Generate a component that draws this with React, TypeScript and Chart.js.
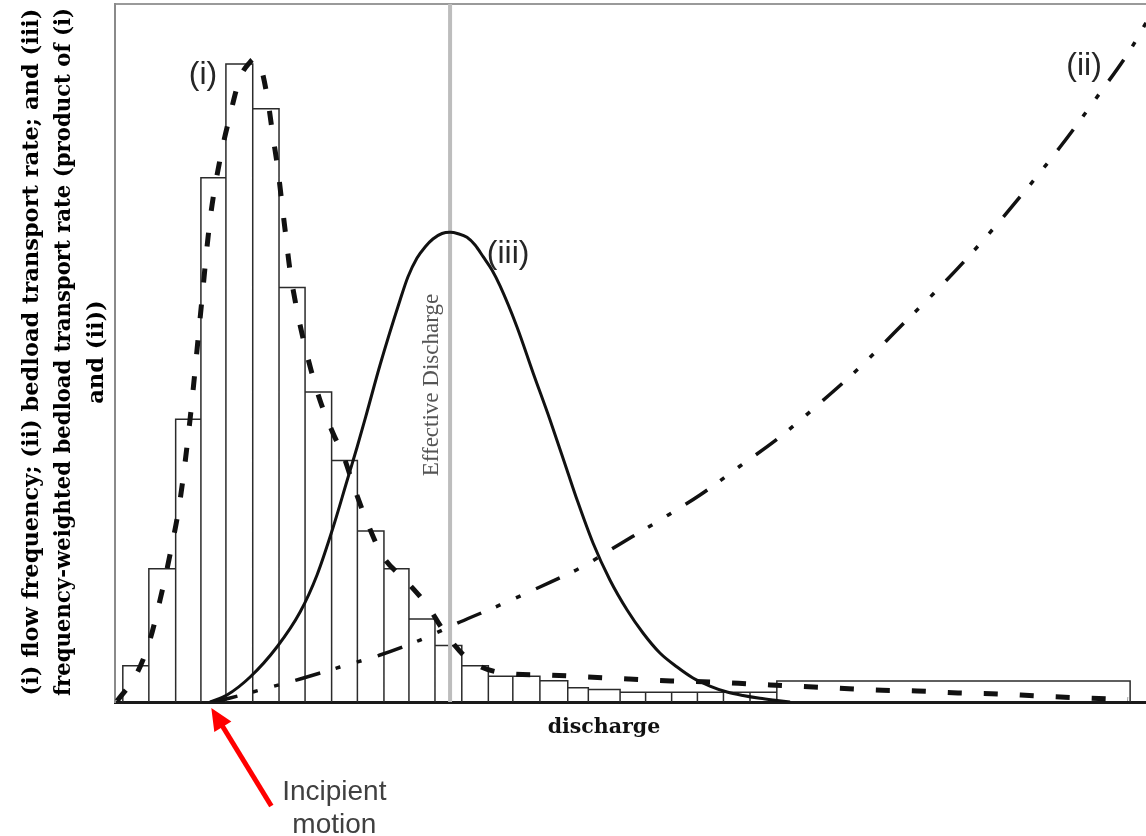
import React, { useEffect, useRef } from "react";
import { Chart, registerables } from "chart.js";

Chart.register(...registerables);

// ---- data (arbitrary discharge units on x, relative magnitude 0-100 on y) ----
const binEdges = [0.3, 1.3, 2.33, 3.3, 4.26, 5.29, 6.3, 7.3, 8.32, 9.31, 10.33, 11.29, 12.29, 13.32, 14.34, 15.28, 16.32, 17.39, 18.18, 19.4, 20.38, 21.38, 22.37, 23.37, 24.39, 25.42, 38.99];
const binFrequency = [5.2, 19.1, 40.5, 75.1, 91.4, 85.0, 59.4, 44.4, 34.6, 24.5, 19.1, 11.9, 8.1, 5.2, 3.7, 3.7, 3.05, 2.05, 1.8, 1.4, 1.4, 1.4, 1.4, 1.4, 1.4, 3.0];

// (i) fitted flow frequency curve
const freqCurveQ = [0.08, 0.85, 1.34, 1.73, 2.11, 2.5, 2.88, 3.27, 3.65, 4.03, 4.42, 4.8, 5.19, 5.34, 5.61, 5.88, 6.07, 6.26, 6.41, 6.57, 6.72, 6.95, 7.22, 7.53, 7.87, 8.37, 8.76, 9.22, 9.68, 10.26, 11.22, 11.98, 12.68, 13.56, 14.9, 16.59, 18.17, 19.74, 21.36, 22.93, 24.47, 26.04, 27.62, 29.19, 30.81, 32.38, 33.92, 35.45, 37.07, 38.91];
const freqCurveY = [0.14, 4.16, 8.88, 14.61, 21.06, 28.94, 40.4, 55.01, 69.05, 77.65, 84.1, 89.4, 91.69, 92.12, 90.83, 85.96, 80.95, 76.22, 71.49, 66.48, 61.89, 56.88, 52.15, 47.56, 43.27, 38.54, 35.39, 30.37, 25.79, 21.06, 17.19, 13.9, 9.89, 6.16, 4.16, 3.87, 3.58, 3.3, 3.01, 2.87, 2.58, 2.29, 2.01, 1.72, 1.58, 1.29, 1.15, 0.86, 0.6, 0.36];

// (ii) bedload transport rating curve
const transportQ = [3.73, 4.42, 5.57, 7.11, 8.64, 10.18, 11.72, 13.25, 14.79, 16.32, 17.86, 19.4, 20.93, 22.47, 24.01, 25.54, 27.08, 28.62, 30.15, 31.69, 33.22, 34.76, 36.3, 37.83, 38.99, 39.75];
const transportY = [0, 0.57, 1.72, 3.3, 5.01, 6.73, 8.88, 11.46, 13.9, 16.48, 19.2, 22.64, 26.07, 29.66, 33.81, 37.97, 42.84, 47.99, 53.73, 59.46, 65.62, 72.35, 79.51, 87.25, 93.41, 98.28];

// (iii) frequency-weighted bedload transport rate
const effectQ = [3.65, 4.3, 5.19, 6.22, 7.11, 7.76, 8.37, 8.91, 9.3, 9.68, 10.18, 10.95, 11.25, 11.6, 11.91, 12.21, 12.56, 12.87, 13.18, 13.52, 13.83, 14.14, 14.48, 14.79, 15.44, 16.06, 16.71, 17.36, 17.75, 18.36, 19.01, 19.67, 20.28, 20.93, 21.59, 22.2, 22.85, 23.51, 24.12, 24.77, 25.43, 25.93];
const effectY = [0, 1.0, 3.58, 7.88, 12.89, 18.2, 24.93, 31.66, 36.53, 41.55, 48.28, 57.59, 60.89, 63.61, 65.19, 66.33, 67.12, 67.29, 67.09, 66.58, 65.47, 63.8, 61.89, 59.6, 53.73, 47.14, 40.4, 33.24, 28.94, 22.78, 17.48, 13.18, 9.89, 7.02, 5.01, 3.44, 2.29, 1.43, 0.93, 0.53, 0.22, 0];

const effectiveDischarge = 12.87;
const incipientMotion = 3.7;
const X_MAX = 39.6;
const Y_MAX = 100;

const yTitleLines = [
  "(i) flow frequency; (ii) bedload transport rate; and (iii)",
  "frequency-weighted bedload transport rate (product of (i)",
  "and (ii))",
];
const curveLabels = [
  { text: "(i)", q: 3.38, v: 89.8 },
  { text: "(ii)", q: 37.22, v: 91.1 },
  { text: "(iii)", q: 15.1, v: 64.2 },
];

const zip = (xs: number[], ys: number[]) => xs.map((x, i) => ({ x, y: ys[i] }));

function histogramOutline() {
  const pts: { x: number; y: number }[] = [];
  binFrequency.forEach((h, i) => {
    pts.push({ x: binEdges[i], y: 0 }, { x: binEdges[i], y: h }, { x: binEdges[i + 1], y: h }, { x: binEdges[i + 1], y: 0 });
  });
  return pts;
}

const annotationPlugin = {
  id: "sketchAnnotations",
  afterDatasetsDraw(chart: any) {
    const { ctx, chartArea } = chart;
    const xs = chart.scales.x;
    const ys = chart.scales.y;
    ctx.save();
    ctx.textAlign = "center";
    ctx.textBaseline = "middle";

    // y axis title (three rotated lines)
    ctx.save();
    ctx.fillStyle = "#000000";
    ctx.font = 'bold 22.5px "DejaVu Serif", serif';
    const midY = (chartArea.top + chartArea.bottom) / 2 - 1;
    const lineX = [chartArea.left - 83, chartArea.left - 51, chartArea.left - 18];
    yTitleLines.forEach((line, i) => {
      ctx.save();
      ctx.translate(lineX[i], midY);
      ctx.rotate(-Math.PI / 2);
      ctx.fillText(line, 0, 0, 688);
      ctx.restore();
    });
    ctx.restore();

    // curve labels
    ctx.fillStyle = "#262626";
    ctx.font = '32px "Liberation Sans", Arial, sans-serif';
    curveLabels.forEach((l) => ctx.fillText(l.text, xs.getPixelForValue(l.q), ys.getPixelForValue(l.v)));

    // effective discharge label
    const ex = xs.getPixelForValue(effectiveDischarge);
    ctx.save();
    ctx.translate(ex - 18, ys.getPixelForValue(45.4));
    ctx.rotate(-Math.PI / 2);
    ctx.font = '23px "Liberation Serif", "Times New Roman", serif';
    ctx.fillStyle = "#555555";
    ctx.fillText("Effective Discharge", 0, 0);
    ctx.restore();

    // x axis title
    ctx.font = 'bold 20.5px "DejaVu Serif", serif';
    ctx.fillStyle = "#111111";
    ctx.fillText("discharge", xs.getPixelForValue(18.78), chartArea.bottom + 26);

    // incipient motion arrow
    const tipX = xs.getPixelForValue(incipientMotion);
    const tipY = chartArea.bottom + 6;
    const tailX = tipX + 60;
    const tailY = tipY + 98;
    const dx = tipX - tailX, dy = tipY - tailY;
    const len = Math.hypot(dx, dy);
    const ux = dx / len, uy = dy / len;
    const headLen = 22, headHalf = 10;
    const bx = tipX - ux * headLen, by = tipY - uy * headLen;
    ctx.strokeStyle = "#ff0000";
    ctx.fillStyle = "#ff0000";
    ctx.lineWidth = 5;
    ctx.beginPath();
    ctx.moveTo(tailX, tailY);
    ctx.lineTo(bx + ux * 2, by + uy * 2);
    ctx.stroke();
    ctx.beginPath();
    ctx.moveTo(tipX, tipY);
    ctx.lineTo(bx - uy * headHalf, by + ux * headHalf);
    ctx.lineTo(bx + uy * headHalf, by - ux * headHalf);
    ctx.closePath();
    ctx.fill();

    // incipient motion text
    ctx.fillStyle = "#404040";
    ctx.font = '28px "Liberation Sans", Arial, sans-serif';
    ctx.textBaseline = "alphabetic";
    ctx.fillText("Incipient", tipX + 123, chartArea.bottom + 98);
    ctx.fillText("motion", tipX + 123, chartArea.bottom + 131);
    ctx.restore();
  },
};

export default function App() {
  const ref = useRef<HTMLCanvasElement | null>(null);
  useEffect(() => {
    if (!ref.current) return;
    const hidden = { display: false };
    const chart = new Chart(ref.current, {
      type: "line",
      data: {
        datasets: [
          {
            label: "(iii) frequency-weighted bedload transport",
            data: zip(effectQ, effectY),
            borderColor: "#111111",
            borderWidth: 3,
            cubicInterpolationMode: "monotone",
            pointRadius: 0,
            fill: false,
            order: 0,
          },
          {
            label: "(ii) bedload transport rate",
            data: zip(transportQ, transportY),
            borderColor: "#111111",
            borderWidth: 3.5,
            borderDash: [26, 16, 5, 17, 5, 17],
            cubicInterpolationMode: "monotone",
            pointRadius: 0,
            fill: false,
            order: 1,
          },
          {
            label: "(i) flow frequency curve",
            data: zip(freqCurveQ, freqCurveY),
            borderColor: "#111111",
            borderWidth: 5,
            borderDash: [14, 22],
            cubicInterpolationMode: "monotone",
            pointRadius: 0,
            fill: false,
            order: 2,
          },
          {
            label: "Effective Discharge",
            data: [{ x: effectiveDischarge, y: 0 }, { x: effectiveDischarge, y: Y_MAX }],
            borderColor: "#bdbdbd",
            borderWidth: 4,
            pointRadius: 0,
            fill: false,
            order: 3,
          },
          {
            label: "(i) flow frequency histogram",
            data: histogramOutline(),
            borderColor: "#2b2b2b",
            borderWidth: 1.5,
            tension: 0,
            pointRadius: 0,
            fill: false,
            order: 4,
          },
        ],
      },
      options: {
        animation: false,
        responsive: false,
        devicePixelRatio: 1,
        layout: { autoPadding: false, padding: { left: 115, right: 0, top: 4, bottom: 134 } },
        plugins: { legend: { display: false }, tooltip: { enabled: false } },
        scales: {
          x: {
            type: "linear",
            position: "bottom",
            min: 0,
            max: X_MAX,
            ticks: hidden,
            grid: { display: false, drawTicks: false },
            border: { display: true, color: "#1a1a1a", width: 3 },
          },
          x2: {
            type: "linear",
            axis: "x",
            position: "top",
            min: 0,
            max: X_MAX,
            ticks: hidden,
            grid: { display: false, drawTicks: false },
            border: { display: true, color: "#9a9a9a", width: 2 },
          },
          y: {
            type: "linear",
            min: 0,
            max: Y_MAX,
            ticks: hidden,
            grid: { display: false, drawTicks: false },
            border: { display: true, color: "#8a8a8a", width: 2 },
          },
        },
      } as any,
      plugins: [annotationPlugin],
    } as any);
    return () => chart.destroy();
  }, []);
  return (
    <div style={{ position: "absolute", left: 0, top: 0, width: 1146, height: 836, background: "#ffffff" }}>
      <canvas ref={ref} width={1146} height={836} style={{ display: "block" }} />
    </div>
  );
}
